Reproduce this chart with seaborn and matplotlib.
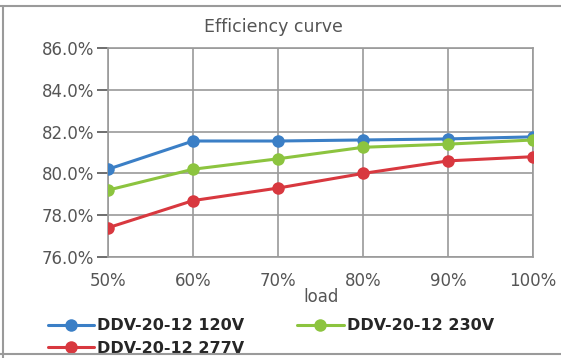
import matplotlib
matplotlib.use("Agg")
import matplotlib.pyplot as plt
import seaborn as sns
import pandas as pd
from matplotlib.lines import Line2D

loads = ["50%", "60%", "70%", "80%", "90%", "100%"]
eff_120 = [80.2, 81.55, 81.55, 81.6, 81.65, 81.75]
eff_230 = [79.2, 80.2, 80.7, 81.25, 81.4, 81.6]
eff_277 = [77.4, 78.7, 79.3, 80.0, 80.6, 80.8]
series = ["DDV-20-12 120V", "DDV-20-12 277V", "DDV-20-12 230V"]
colors = {"DDV-20-12 120V": "#3b7fc6", "DDV-20-12 230V": "#8cc43f", "DDV-20-12 277V": "#d8383f"}
y_ticks = [76, 78, 80, 82, 84, 86]

sns.set_theme(style="white")
plt.rcParams['font.family'] = ['DejaVu Sans']

rows = []
for name, vals in [("DDV-20-12 120V", eff_120), ("DDV-20-12 277V", eff_277), ("DDV-20-12 230V", eff_230)]:
    for i, (l, v) in enumerate(zip(loads, vals)):
        rows.append({"x": i, "load": l, "eff": v, "series": name})
df = pd.DataFrame(rows)

fig = plt.figure(figsize=(5.61, 3.58), dpi=100)
ax = fig.add_axes([0.1925, 0.282, 0.758, 0.584])

sns.lineplot(data=df, x="x", y="eff", hue="series", hue_order=series, palette=colors,
             marker="o", markersize=9, markeredgewidth=0, linewidth=2.2, ax=ax, zorder=3)

ax.set_xlim(0, len(loads) - 1)
ax.set_ylim(76, 86)
ax.set_xticks(range(len(loads)))
ax.set_xticklabels(loads)
ax.set_yticks(y_ticks)
ax.set_yticklabels([f"{t:.1f}%" for t in y_ticks])
ax.grid(True, color="#9a9a9a", linewidth=1.2)
for s in ax.spines.values():
    s.set_color("#9a9a9a")
    s.set_linewidth(1.2)
ax.tick_params(axis="y", colors="#555555", labelsize=12, length=8, width=1.2, pad=2, left=True)
ax.tick_params(axis="x", colors="#555555", labelsize=12, length=0, pad=11)
ax.set_xlabel("load", color="#555555", fontsize=12, labelpad=-2)
ax.set_ylabel("")
fig.text(0.487, 0.925, "Efficiency curve", ha="center", va="center", fontsize=12.5,
         color="#555555")

handles, labels = ax.get_legend_handles_labels()
ax.legend(handles, labels, ncol=2, loc="upper left", bbox_to_anchor=(-0.175, -0.225),
          frameon=False, handlelength=2.9, columnspacing=3.3,
          labelspacing=0.45, handletextpad=0.2, prop={"weight": "bold", "size": 11.5})

for xs, ys in [([0.0, 1.0], [0.983, 0.983]), ([0.006, 0.006], [0.0, 0.983]), ([0.0, 1.0], [0.01, 0.01])]:
    fig.add_artist(Line2D(xs, ys, transform=fig.transFigure, color="#9a9a9a", linewidth=1.5))
fig.savefig("out.png", dpi=100)
